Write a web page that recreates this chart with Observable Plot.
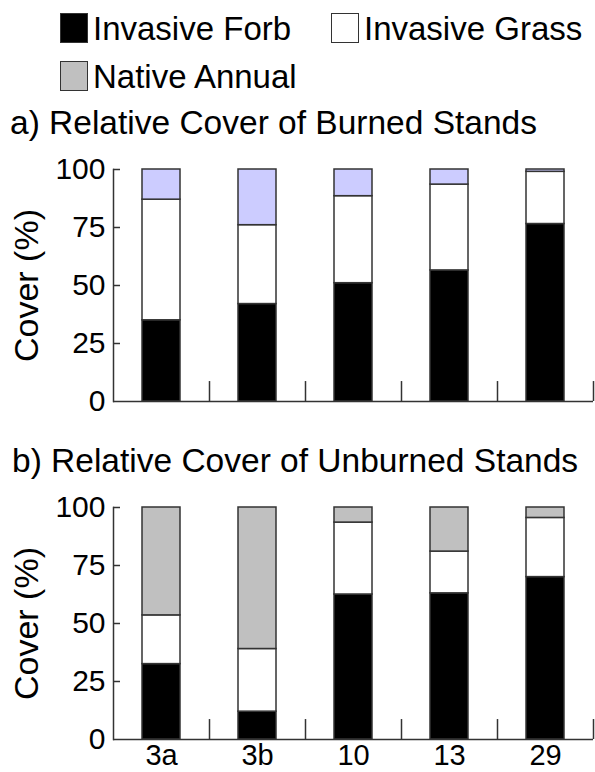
<!DOCTYPE html>
<html><head><meta charset="utf-8">
<script src="https://cdn.jsdelivr.net/npm/d3@7"></script>
<script src="https://cdn.jsdelivr.net/npm/@observablehq/plot@0.6"></script>
<style>
body{margin:0;background:#fff;font-family:"Liberation Sans",Arial,sans-serif;color:#000;}
#wrap{position:relative;width:595px;height:772px;overflow:hidden;background:#fff;}
.lg{position:absolute;font-size:33px;line-height:1;white-space:nowrap;}
.sw{position:absolute;box-sizing:border-box;width:28px;height:30px;border:1.5px solid #333;}
.title{position:absolute;font-size:33.5px;line-height:1;white-space:nowrap;}
.chart{position:absolute;left:0;}
</style></head>
<body><div id="wrap"></div>
<script>
const sites = ["3a", "3b", "10", "13", "29"];
const seriesNames = ["Invasive Forb", "Invasive Grass", "Native Annual"];
const yTicks = [0, 25, 50, 75, 100];

const burnedForb   = [35, 42, 51, 56.5, 76.5];
const burnedGrass  = [52, 34, 37.5, 37, 22.5];
const burnedNative = [13, 24, 11.5, 6.5, 1];

const unburnedForb   = [32.5, 12, 62.5, 63, 70];
const unburnedGrass  = [21, 27, 31, 18, 25.5];
const unburnedNative = [46.5, 61, 6.5, 19, 4.5];

const legendColors = ["#000000", "#ffffff", "#c0c0c0"];
const burnedColors = ["#000000", "#ffffff", "#ccccff"];
const unburnedColors = ["#000000", "#ffffff", "#c0c0c0"];

const FONT = '"Liberation Sans", Arial, sans-serif';
const wrap = document.getElementById("wrap");

function add(html) { wrap.insertAdjacentHTML("beforeend", html); }

// legend
add(`<div class="sw" style="left:60px;top:13px;background:${legendColors[0]}"></div>`);
add(`<div class="lg" style="left:93px;top:12px">${seriesNames[0]}</div>`);
add(`<div class="sw" style="left:331px;top:13px;background:${legendColors[1]}"></div>`);
add(`<div class="lg" style="left:364px;top:12px">${seriesNames[1]}</div>`);
add(`<div class="sw" style="left:60px;top:61px;background:${legendColors[2]}"></div>`);
add(`<div class="lg" style="left:93px;top:60px">${seriesNames[2]}</div>`);

// titles
add(`<div class="title" style="left:10px;top:106px">a) Relative Cover of Burned Stands</div>`);
add(`<div class="title" style="left:12px;top:444px">b) Relative Cover of Unburned Stands</div>`);

function chart(forb, grass, native, colors, showLabels, height, marginTop, marginBottom) {
  const data = [];
  sites.forEach((s, i) => {
    data.push({site: s, type: seriesNames[0], value: forb[i]});
    data.push({site: s, type: seriesNames[1], value: grass[i]});
    data.push({site: s, type: seriesNames[2], value: native[i]});
  });
  const width = 595, marginLeft = 113, marginRight = 2;
  const plotW = width - marginLeft - marginRight;
  const pInner = 0.6, pOuter = 0.3;
  const step = plotW / (sites.length - pInner + 2 * pOuter);
  const yTickLen = 7;
  const marks = [
    Plot.barY(data, {x: "site", y: "value", fill: "type", stroke: "#333", strokeWidth: 1.5, order: seriesNames}),
    Plot.ruleX(sites, {x: d => d, y1: 0, y2: 8.6, dx: step / 2, stroke: "#333", strokeWidth: 1.5}),
    Plot.ruleY(yTicks.slice(1), {y: d => d, insetRight: plotW - yTickLen, stroke: "#333", strokeWidth: 1.5}),
    Plot.ruleY([0], {stroke: "#333", strokeWidth: 1.5}),
    Plot.frame({anchor: "left", stroke: "#333", strokeWidth: 1.5}),
    Plot.axisY({ticks: yTicks, tickSize: 0, tickPadding: 8, fontSize: 30, label: null}),
    Plot.axisY({ticks: [], tickSize: 0, fontSize: 34, label: "Cover (%)", labelArrow: "none", labelAnchor: "center", labelOffset: 100})
  ];
  if (showLabels) marks.push(Plot.axisX({tickSize: 0, tickPadding: 5, fontSize: 29, label: null}));
  return Plot.plot({
    width, height, marginLeft, marginRight, marginTop, marginBottom,
    style: {fontFamily: FONT, background: "transparent", color: "#000", overflow: "visible"},
    x: {domain: sites, paddingInner: pInner, paddingOuter: pOuter, axis: showLabels ? undefined : null},
    y: {domain: [0, 100]},
    color: {domain: seriesNames, range: colors},
    marks
  });
}

const top1 = chart(burnedForb, burnedGrass, burnedNative, burnedColors, false, 262, 19, 11);
top1.classList.add("chart"); top1.style.top = "150px";
wrap.appendChild(top1);

const bot = chart(unburnedForb, unburnedGrass, unburnedNative, unburnedColors, true, 285, 20, 33);
bot.classList.add("chart"); bot.style.top = "487px";
wrap.appendChild(bot);
</script>
</body></html>
